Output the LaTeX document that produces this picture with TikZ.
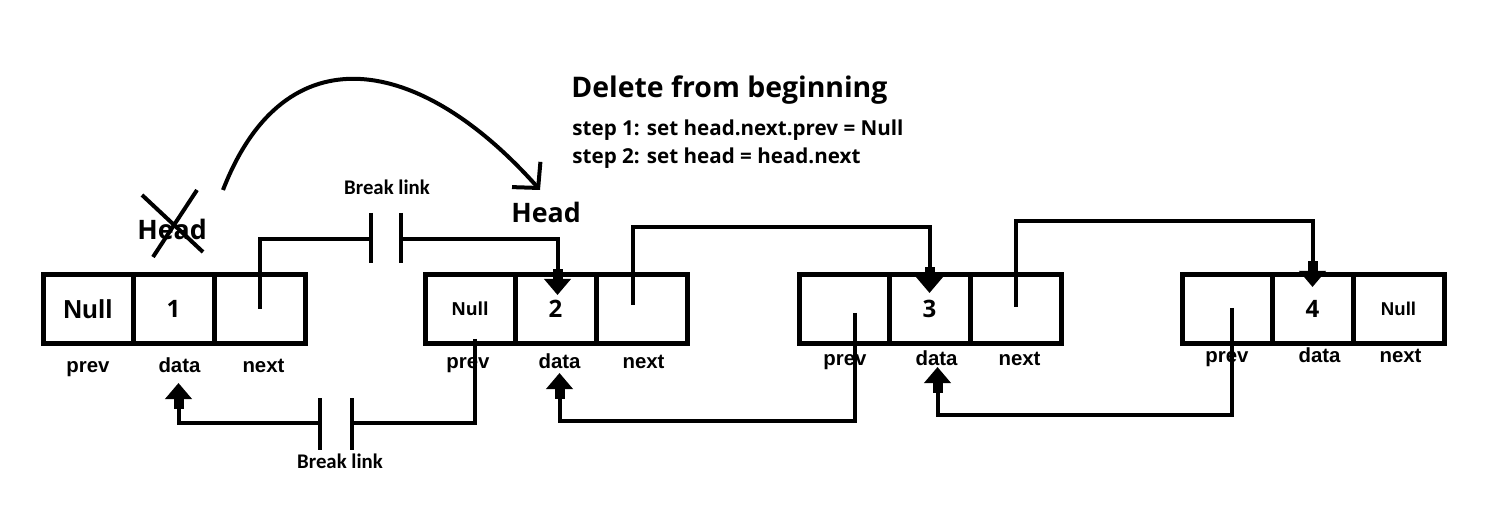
\documentclass[tikz,border=0pt]{standalone}
\usepackage{fontspec}
\usetikzlibrary{arrows.meta, positioning, calc}
\newfontfamily\uifont{Open Sans}
\newfontfamily\lblfont{Liberation Sans}
\newfontfamily\brkfont{Carlito}
\newcommand{\numtext}{\uifont\bfseries\fontsize{12}{14}\selectfont}
\newcommand{\bignull}{\lblfont\bfseries\fontsize{13}{15}\selectfont}
\newcommand{\smallnull}{\lblfont\bfseries\fontsize{9.3}{11}\selectfont}

\tikzset{
  cell/.style = {draw, line width=2.5pt, outer sep=0pt, inner sep=0pt, minimum height=34pt},
  prevcell/.style = {cell, minimum width=45pt},
  datacell/.style = {cell, minimum width=40.5pt},
  nextcell/.style = {cell, minimum width=45.5pt},
  fieldlbl/.style = {font=\lblfont\bfseries\fontsize{10.2}{12}\selectfont, inner sep=0pt, anchor=base},
  brklbl/.style = {font=\brkfont\bfseries\fontsize{10.4}{12}\selectfont, inner sep=0pt},
  headlbl/.style = {font=\uifont\bfseries\fontsize{13.4}{15}\selectfont, inner sep=0pt},
  link/.style = {line width=2pt},
  ptr/.style = {link, -{Rectangle[length=5pt,width=5pt,sep=0pt]Triangle[length=8pt,width=13pt]}}
}

\begin{document}
\begin{tikzpicture}[x=0.5pt, y=-0.5pt]
  \useasboundingbox (0,0) rectangle (1497,523);

  % title and steps
  \node[
  anchor = west,
  inner sep = 0pt,
  font = \uifont\bfseries\fontsize{14.2}{16}\selectfont
  ] (title) at (571,90) {Delete from beginning};
  \node[
  anchor = west,
  inner sep = 0pt,
  font = \uifont\bfseries\fontsize{10.3}{12}\selectfont
  ] (step1) at (572,130) {step 1: set head.next.prev = Null};
  \node[
  anchor = west,
  inner sep = 0pt,
  font = \uifont\bfseries\fontsize{10.3}{12}\selectfont
  ] (step2) at (572,158) {step 2: set head = head.next};

  % list nodes
  \node[prevcell] (n1prev) at (88,309) {\bignull Null};
  \node[datacell, right=0pt of n1prev] (n1data) {\numtext 1};
  \node[nextcell, right=0pt of n1data] (n1next) {};

  \node[prevcell] (n2prev) at (470,309) {\uifont\bfseries\fontsize{9}{11}\selectfont Null};
  \node[datacell, right=0pt of n2prev] (n2data) {\numtext 2};
  \node[nextcell, right=0pt of n2data] (n2next) {};

  \node[prevcell] (n3prev) at (844,309) {};
  \node[datacell, right=0pt of n3prev] (n3data) {\numtext 3};
  \node[nextcell, right=0pt of n3data] (n3next) {};

  \node[prevcell] (n4prev) at (1227,309) {};
  \node[datacell, right=0pt of n4prev] (n4data) {\numtext 4};
  \node[nextcell, right=0pt of n4data] (n4next) {\smallnull Null};

  % field names
  \node[fieldlbl] (n1prevl) at ($(n1prev.south)+(0,29)$) {prev};
  \node[fieldlbl] (n1datal) at ($(n1data.south)+(6,29)$) {data};
  \node[fieldlbl] (n1nextl) at ($(n1next.south)+(4,29)$) {next};
  \node[fieldlbl] (n2prevl) at ($(n2prev.south)+(-2,25)$) {prev};
  \node[fieldlbl] (n2datal) at ($(n2data.south)+(4,25)$) {data};
  \node[fieldlbl] (n2nextl) at ($(n2next.south)+(2,25)$) {next};
  \node[fieldlbl] (n3prevl) at ($(n3prev.south)+(1,22)$) {prev};
  \node[fieldlbl] (n3datal) at ($(n3data.south)+(7,22)$) {data};
  \node[fieldlbl] (n3nextl) at ($(n3next.south)+(4,22)$) {next};
  \node[fieldlbl] (n4prevl) at ($(n4prev.south)+(0,20)$) {prev};
  \node[fieldlbl] (n4datal) at ($(n4data.south)+(7,20)$) {data};
  \node[fieldlbl] (n4nextl) at ($(n4next.south)+(2,20)$) {next};

  % heads
  \node[headlbl] (oldhead) at (172,229) {Head};
  \draw[link] ($(oldhead.center)+(-30,-34)$) -- ($(oldhead.center)+(31,23)$);
  \draw[link] ($(oldhead.center)+(25,-39)$) -- ($(oldhead.center)+(-19,28)$);
  \node[headlbl] (newhead) at (546,212) {Head};
  \coordinate (movefrom) at (223,190);
  \coordinate (moveto) at (540,190);
  \draw[link, -{Straight Barb[length=9pt,width=19pt]}] (movefrom) .. controls (285,30) and (420,55) .. (moveto);

  % broken next link
  \coordinate (cut1a) at (371,239);
  \coordinate (cut1b) at (401,239);
  \node[brklbl] (cut1lbl) at (387,187) {Break link};
  \draw[link] (n1next.center) |- (cut1a);
  \draw[link] ($(cut1a)+(0,-26)$) -- ($(cut1a)+(0,24)$);
  \draw[link] ($(cut1b)+(0,-26)$) -- ($(cut1b)+(0,24)$);
  \draw[ptr] (cut1b) -| ($(n2data.north)+(2,20)$);

  % broken prev link
  \coordinate (cut2a) at (320,423);
  \coordinate (cut2b) at (352,423);
  \node[brklbl] (cut2lbl) at (340,461) {Break link};
  \draw[link] ($(n2prev.south)+(5,-4)$) |- (cut2b);
  \draw[link] ($(cut2a)+(0,-25)$) -- ($(cut2a)+(0,27)$);
  \draw[link] ($(cut2b)+(0,-25)$) -- ($(cut2b)+(0,27)$);
  \draw[ptr] (cut2a) -| ($(n1data.south)+(5,40)$);

  % next pointers
  \draw[ptr] ($(n2next.center)+(-9,-4)$) -- ++(0,-78) -| ($(n3data.north)+(0,18)$);
  \draw[ptr] ($(n3next.center)+(0,-2)$) -- ++(0,-86) -| ($(n4data.north)+(0,12)$);

  % prev pointers
  \draw[ptr] ($(n3prev.center)+(11,4)$) -- ++(0,108) -| ($(n2data.south)+(4,30)$);
  \draw[ptr] ($(n4prev.center)+(5,-1)$) -- ++(0,107) -| ($(n3data.south)+(8,24)$);
\end{tikzpicture}
\end{document}
